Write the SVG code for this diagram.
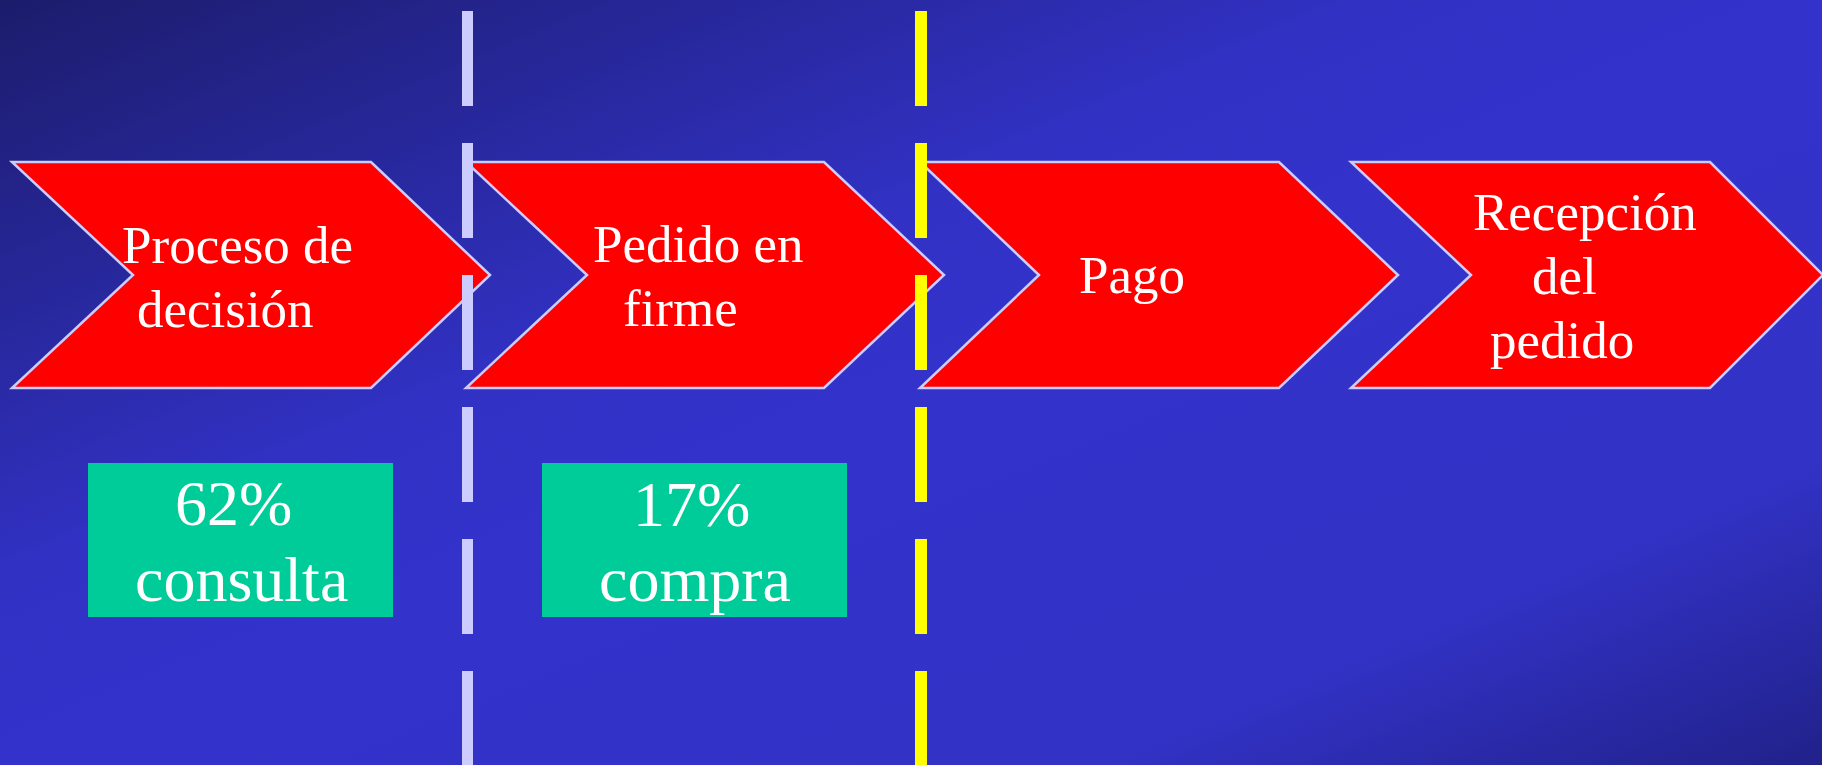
<svg xmlns="http://www.w3.org/2000/svg" width="1822" height="765" viewBox="0 0 1822 765">
<defs>
<linearGradient id="bg" x1="0" y1="0" x2="1" y2="1">
<stop offset="0" stop-color="#1c1c6c"/>
<stop offset="0.38" stop-color="#3131c4"/>
<stop offset="0.5" stop-color="#3333cc"/>
<stop offset="0.8" stop-color="#3232c6"/>
<stop offset="1" stop-color="#21218a"/>
</linearGradient>
</defs>
<style>
.chev{fill:#ff0000;stroke:#ccccff;stroke-width:2.5;stroke-linejoin:miter}
.box{fill:#00cc99}
.t{font-family:"Liberation Serif","Times New Roman",serif;fill:#ffffff;font-size:53px}
.tb{font-family:"Liberation Serif","Times New Roman",serif;fill:#ffffff;font-size:64px}
.dash{fill:none;stroke-dasharray:95 37}
</style>
<rect x="0" y="0" width="1822" height="765" fill="url(#bg)"/>
<g id="step1">
<polygon class="chev" points="12,162 371,162 490,275 371,388 12,388 133,275"/>
<text class="t" x="122" y="263">Proceso de</text>
<text class="t" x="137" y="327">decisión</text>
</g>
<g id="step2">
<polygon class="chev" points="466,162 824,162 944,275 824,388 466,388 587,275"/>
<text class="t" x="593" y="262">Pedido en</text>
<text class="t" x="623" y="326">firme</text>
</g>
<g id="step3">
<polygon class="chev" points="920,162 1279,162 1398,275 1279,388 920,388 1039,275"/>
<text class="t" x="1079" y="293">Pago</text>
</g>
<g id="step4">
<polygon class="chev" points="1351,162 1710,162 1823,275 1710,388 1351,388 1471,275"/>
<text class="t" x="1473" y="230">Recepción</text>
<text class="t" x="1532" y="294">del</text>
<text class="t" x="1490" y="358">pedido</text>
</g>
<g id="box1">
<rect class="box" x="88" y="463" width="305" height="154"/>
<text class="tb" x="175" y="525">62%</text>
<text class="tb" x="135" y="601">consulta</text>
</g>
<g id="box2">
<rect class="box" x="542" y="463" width="305" height="154"/>
<text class="tb" x="633" y="526">17%</text>
<text class="tb" x="599" y="601">compra</text>
</g>
<g id="connectors">
<line class="dash" x1="467.5" y1="11" x2="467.5" y2="800" stroke="#ccccff" stroke-width="11"/>
<line class="dash" x1="921" y1="11" x2="921" y2="800" stroke="#ffff00" stroke-width="12"/>
</g>
</svg>
